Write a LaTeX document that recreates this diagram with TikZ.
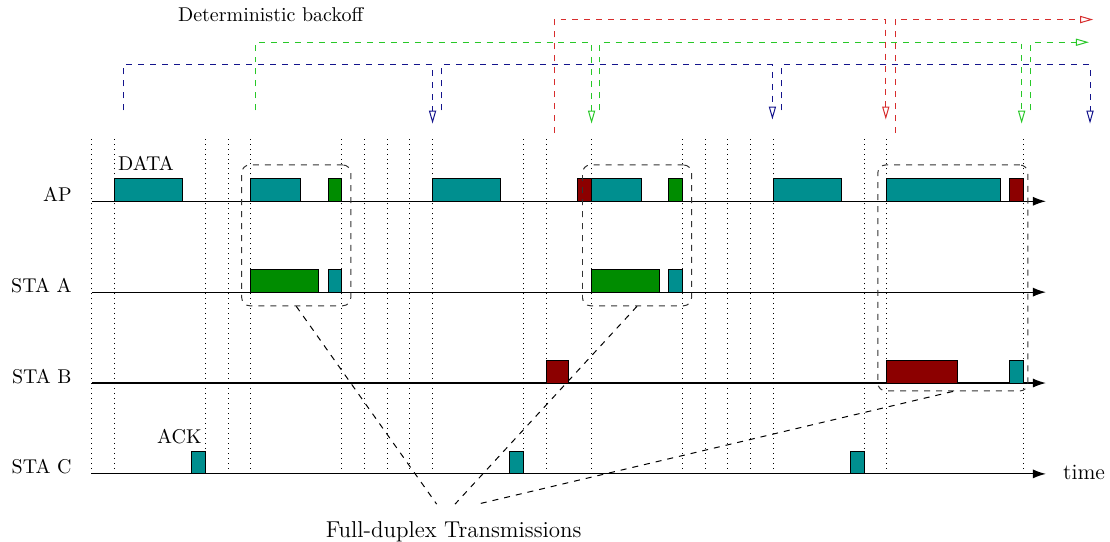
\documentclass[tikz,border=0pt]{standalone}
\usetikzlibrary{arrows.meta,fit}
\definecolor{pktteal}{RGB}{0,143,143}
\definecolor{pktgreen}{RGB}{0,140,0}
\definecolor{pktred}{RGB}{140,0,0}
\definecolor{boblue}{RGB}{20,20,140}
\definecolor{bogreen}{RGB}{40,200,40}
\definecolor{bored}{RGB}{215,45,45}
\begin{document}
\begin{tikzpicture}[x=0.4cm,y=0.4cm,
  axis/.style={line width=0.6pt,-{Latex[length=6.5pt,width=4.5pt]}},
  slot/.style={dotted,line width=0.5pt},
  pkt/.style={draw=black,line width=0.5pt},
  backoff/.style={dashed,line width=0.5pt,-{Triangle[open,length=6.5pt,width=3.6pt]}},
  fdbox/.style={draw=black!80,dashed,rounded corners=4pt,inner sep=0pt,line width=0.5pt},
  lead/.style={dashed,line width=0.5pt},
  lbl/.style={inner sep=0pt}
]
\useasboundingbox (-4.04,-2.99) rectangle (44.82,20.86);

% slot boundaries
\foreach \x in {0,1,5,6,7,11,12,13,14,15,19,20,22,26,27,28,29,30,34,35,41}
  \draw[slot] (\x,0) -- (\x,14.9);

% time axes of the stations
\foreach \y/\name/\lab in {12/ap/AP,8/sta/STA A,4/stb/STA B,0/stc/STA C}{
  \draw[axis] (0,\y) -- (42,\y);
  \node[lbl,anchor=base east] (lab-\name) at (-0.87,\y) {\lab};
}
\node[lbl,anchor=base west,font=\fontsize{11}{13}\selectfont] (time) at (42.74,-0.26) {time};

% AP transmissions
\draw[pkt,fill=pktteal]  (1,12) rectangle (4,13);
\draw[pkt,fill=pktteal]  (7,12) rectangle (9.2,13);
\draw[pkt,fill=pktgreen] (10.4,12) rectangle (11,13);
\draw[pkt,fill=pktteal]  (15,12) rectangle (18,13);
\draw[pkt,fill=pktred]   (21.4,12) rectangle (22,13);
\draw[pkt,fill=pktteal]  (22,12) rectangle (24.2,13);
\draw[pkt,fill=pktgreen] (25.4,12) rectangle (26,13);
\draw[pkt,fill=pktteal]  (30,12) rectangle (33,13);
\draw[pkt,fill=pktteal]  (35,12) rectangle (40,13);
\draw[pkt,fill=pktred]   (40.4,12) rectangle (41,13);
% STA A
\draw[pkt,fill=pktgreen] (7,8) rectangle (10,9);
\draw[pkt,fill=pktteal]  (10.4,8) rectangle (11,9);
\draw[pkt,fill=pktgreen] (22,8) rectangle (25,9);
\draw[pkt,fill=pktteal]  (25.4,8) rectangle (26,9);
% STA B
\draw[pkt,fill=pktred]   (20,4) rectangle (21,5);
\draw[pkt,fill=pktred]   (35,4) rectangle (38.1,5);
\draw[pkt,fill=pktteal]  (40.4,4) rectangle (41,5);
% STA C
\draw[pkt,fill=pktteal]  (4.4,0) rectangle (5,1);
\draw[pkt,fill=pktteal]  (18.4,0) rectangle (19,1);
\draw[pkt,fill=pktteal]  (33.4,0) rectangle (34,1);

\node[lbl,anchor=base west] (data) at (1.14,13.35) {DATA};
\node[lbl,anchor=base east] (ack) at (4.85,1.32) {ACK};

% deterministic backoff counters
\node[lbl,anchor=base west] (dbo) at (3.78,19.9) {Deterministic backoff};
\draw[backoff,boblue] (1.41,16) |- (15,18) -- (15,15.42);
\draw[backoff,boblue] (15.39,16) |- (29.96,18) -- (29.96,15.6);
\draw[backoff,boblue] (30.35,16) |- (43.94,18) -- (43.94,15.42);
\draw[backoff,bogreen] (7.2,16) |- (22,19) -- (22,15.42);
\draw[backoff,bogreen] (22.37,16) |- (40.93,19) -- (40.93,15.42);
\draw[backoff,bogreen] (41.34,16) |- (43.89,19);
\draw[backoff,bored] (20.36,15) |- (34.95,20) -- (34.95,15.6);
\draw[backoff,bored] (35.36,15) |- (44.08,20);

% full-duplex exchanges
\node[fdbox,fit={(6.6,7.4) (11.4,13.6)}] (fd1) {};
\node[fdbox,fit={(21.6,7.4) (26.4,13.6)}] (fd2) {};
\node[fdbox,fit={(34.6,3.65) (41.2,13.6)}] (fd3) {};

\node[lbl,anchor=base,font=\fontsize{11.5}{14}\selectfont] (fdlabel) at (15.93,-2.82) {Full-duplex Transmissions};
\coordinate (e1) at (15.18,-1.33);
\coordinate (e2) at (15.99,-1.33);
\coordinate (e3) at (16.99,-1.33);
\draw[lead] (fd1.south) -- (e1);
\draw[lead] (fd2.south) -- (e2);
\draw[lead] (fd3.south) -- (e3);
\end{tikzpicture}
\end{document}
